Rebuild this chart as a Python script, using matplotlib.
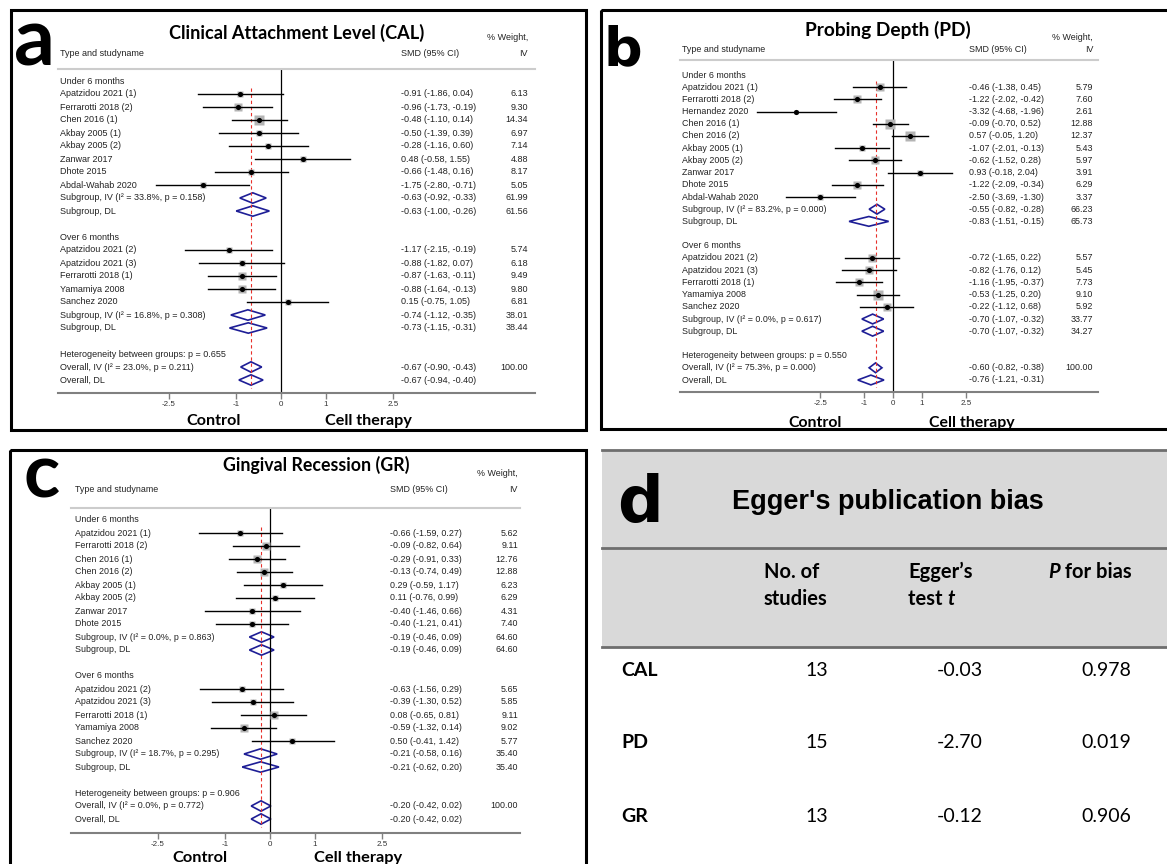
import numpy as np
import matplotlib
matplotlib.use("Agg")
import matplotlib.pyplot as plt
from matplotlib.patches import Polygon, Rectangle

W, H = 1167, 864

# ---- data -----------------------------------------------------------------
TICKS = [-2.5, -1, 0, 1, 2.5]
TICK_LABELS = ["-2.5", "-1", "0", "1", "2.5"]
UNDER_HDR = "Under 6 months"
OVER_HDR = "Over 6 months"

# (a) CAL
CAL_U_NAMES = ["Apatzidou 2021 (1)", "Ferrarotti 2018 (2)", "Chen 2016 (1)", "Akbay 2005 (1)",
               "Akbay 2005 (2)", "Zanwar 2017", "Dhote 2015", "Abdal-Wahab 2020"]
CAL_U_SMD = [-0.91, -0.96, -0.48, -0.50, -0.28, 0.48, -0.66, -1.75]
CAL_U_LO = [-1.86, -1.73, -1.10, -1.39, -1.16, -0.58, -1.48, -2.80]
CAL_U_HI = [0.04, -0.19, 0.14, 0.39, 0.60, 1.55, 0.16, -0.71]
CAL_U_WT = [6.13, 9.30, 14.34, 6.97, 7.14, 4.88, 8.17, 5.05]
CAL_U_POOL = [("Subgroup, IV (I² = 33.8%, p = 0.158)", -0.63, -0.92, -0.33, 61.99),
              ("Subgroup, DL", -0.63, -1.00, -0.26, 61.56)]
CAL_O_NAMES = ["Apatzidou 2021 (2)", "Apatzidou 2021 (3)", "Ferrarotti 2018 (1)",
               "Yamamiya 2008", "Sanchez 2020"]
CAL_O_SMD = [-1.17, -0.88, -0.87, -0.88, 0.15]
CAL_O_LO = [-2.15, -1.82, -1.63, -1.64, -0.75]
CAL_O_HI = [-0.19, 0.07, -0.11, -0.13, 1.05]
CAL_O_WT = [5.74, 6.18, 9.49, 9.80, 6.81]
CAL_O_POOL = [("Subgroup, IV (I² = 16.8%, p = 0.308)", -0.74, -1.12, -0.35, 38.01),
              ("Subgroup, DL", -0.73, -1.15, -0.31, 38.44)]
CAL_HET = "Heterogeneity between groups: p = 0.655"
CAL_OVERALL = [("Overall, IV (I² = 23.0%, p = 0.211)", -0.67, -0.90, -0.43, 100.00),
               ("Overall, DL", -0.67, -0.94, -0.40, None)]

# (b) PD
PD_U_NAMES = ["Apatzidou 2021 (1)", "Ferrarotti 2018 (2)", "Hernandez 2020", "Chen 2016 (1)",
              "Chen 2016 (2)", "Akbay 2005 (1)", "Akbay 2005 (2)", "Zanwar 2017",
              "Dhote 2015", "Abdal-Wahab 2020"]
PD_U_SMD = [-0.46, -1.22, -3.32, -0.09, 0.57, -1.07, -0.62, 0.93, -1.22, -2.50]
PD_U_LO = [-1.38, -2.02, -4.68, -0.70, -0.05, -2.01, -1.52, -0.18, -2.09, -3.69]
PD_U_HI = [0.45, -0.42, -1.96, 0.52, 1.20, -0.13, 0.28, 2.04, -0.34, -1.30]
PD_U_WT = [5.79, 7.60, 2.61, 12.88, 12.37, 5.43, 5.97, 3.91, 6.29, 3.37]
PD_U_POOL = [("Subgroup, IV (I² = 83.2%, p = 0.000)", -0.55, -0.82, -0.28, 66.23),
             ("Subgroup, DL", -0.83, -1.51, -0.15, 65.73)]
PD_O_NAMES = ["Apatzidou 2021 (2)", "Apatzidou 2021 (3)", "Ferrarotti 2018 (1)",
              "Yamamiya 2008", "Sanchez 2020"]
PD_O_SMD = [-0.72, -0.82, -1.16, -0.53, -0.22]
PD_O_LO = [-1.65, -1.76, -1.95, -1.25, -1.12]
PD_O_HI = [0.22, 0.12, -0.37, 0.20, 0.68]
PD_O_WT = [5.57, 5.45, 7.73, 9.10, 5.92]
PD_O_POOL = [("Subgroup, IV (I² = 0.0%, p = 0.617)", -0.70, -1.07, -0.32, 33.77),
             ("Subgroup, DL", -0.70, -1.07, -0.32, 34.27)]
PD_HET = "Heterogeneity between groups: p = 0.550"
PD_OVERALL = [("Overall, IV (I² = 75.3%, p = 0.000)", -0.60, -0.82, -0.38, 100.00),
              ("Overall, DL", -0.76, -1.21, -0.31, None)]

# (c) GR
GR_U_NAMES = ["Apatzidou 2021 (1)", "Ferrarotti 2018 (2)", "Chen 2016 (1)", "Chen 2016 (2)",
              "Akbay 2005 (1)", "Akbay 2005 (2)", "Zanwar 2017", "Dhote 2015"]
GR_U_SMD = [-0.66, -0.09, -0.29, -0.13, 0.29, 0.11, -0.40, -0.40]
GR_U_LO = [-1.59, -0.82, -0.91, -0.74, -0.59, -0.76, -1.46, -1.21]
GR_U_HI = [0.27, 0.64, 0.33, 0.49, 1.17, 0.99, 0.66, 0.41]
GR_U_WT = [5.62, 9.11, 12.76, 12.88, 6.23, 6.29, 4.31, 7.40]
GR_U_POOL = [("Subgroup, IV (I² = 0.0%, p = 0.863)", -0.19, -0.46, 0.09, 64.60),
             ("Subgroup, DL", -0.19, -0.46, 0.09, 64.60)]
GR_O_NAMES = ["Apatzidou 2021 (2)", "Apatzidou 2021 (3)", "Ferrarotti 2018 (1)",
              "Yamamiya 2008", "Sanchez 2020"]
GR_O_SMD = [-0.63, -0.39, 0.08, -0.59, 0.50]
GR_O_LO = [-1.56, -1.30, -0.65, -1.32, -0.41]
GR_O_HI = [0.29, 0.52, 0.81, 0.14, 1.42]
GR_O_WT = [5.65, 5.85, 9.11, 9.02, 5.77]
GR_O_POOL = [("Subgroup, IV (I² = 18.7%, p = 0.295)", -0.21, -0.58, 0.16, 35.40),
             ("Subgroup, DL", -0.21, -0.62, 0.20, 35.40)]
GR_HET = "Heterogeneity between groups: p = 0.906"
GR_OVERALL = [("Overall, IV (I² = 0.0%, p = 0.772)", -0.20, -0.42, 0.02, 100.00),
              ("Overall, DL", -0.20, -0.42, 0.02, None)]

# (d) Egger's test
EGGER_OUTCOMES = ["CAL", "PD", "GR"]
EGGER_N = [13, 15, 13]
EGGER_T = [-0.03, -2.70, -0.12]
EGGER_P = [0.978, 0.019, 0.906]


def build_rows(u_names, u_smd, u_lo, u_hi, u_wt, u_pool,
               o_names, o_smd, o_lo, o_hi, o_wt, o_pool, het, overall):
    rows = [("hdr", UNDER_HDR)]
    for r in zip(u_names, u_smd, u_lo, u_hi, u_wt):
        rows.append(("study",) + r)
    rows += [("pool",) + p for p in u_pool]
    rows.append(("blank",))
    rows.append(("hdr", OVER_HDR))
    for r in zip(o_names, o_smd, o_lo, o_hi, o_wt):
        rows.append(("study",) + r)
    rows += [("pool",) + p for p in o_pool]
    rows.append(("blank",))
    rows.append(("hdr", het))
    rows += [("pool",) + p for p in overall]
    return rows


fig = plt.figure(figsize=(W / 100, H / 100), dpi=100)
bg = fig.add_axes([0, 0, 1, 1])
bg.set_xlim(0, W)
bg.set_ylim(H, 0)
bg.axis("off")

CAL_FONT = "Lato"
ARIAL = "Liberation Sans"


def draw_forest(g, rows):
    ax = fig.add_axes([g["left"] / W, 1 - g["bottom"] / H,
                       (g["right"] - g["left"]) / W, (g["bottom"] - g["top"]) / H])
    ax.patch.set_alpha(0)

    def dx(px):
        return (px - g["zero"]) / g["ppu"]

    def ry(py):
        return (py - g["row0"]) / g["step"]

    ax.set_xlim(dx(g["left"]), dx(g["right"]))
    ax.set_ylim(ry(g["bottom"]), ry(g["top"]))
    for s in ("left", "right"):
        ax.spines[s].set_visible(False)
    ax.spines["top"].set_color("#cccccc")
    ax.spines["top"].set_linewidth(1.5)
    ax.spines["bottom"].set_color("#808080")
    ax.spines["bottom"].set_linewidth(1.5)
    ax.set_yticks([])
    ax.set_xticks(TICKS, TICK_LABELS, fontsize=5.8, family=ARIAL)
    ax.tick_params(axis="x", length=4, width=1, color="#808080", pad=2, labelcolor="#333333")

    ax.axvline(0, color="black", lw=0.9)
    overall_iv = [r for r in rows if r[0] == "pool"][-2][2]
    ax.plot([overall_iv, overall_iv], [0.5, len(rows) - 0.4], color="#e8302a",
            lw=0.8, dashes=(3, 2.5))

    kw = dict(fontsize=g["fs"], family=ARIAL, color="#222222", va="center")
    ax.text(dx(g["name_x"]), ry(g["hdr_y"]), "Type and studyname", ha="left", **kw)
    ax.text(dx(g["smd_x"]), ry(g["hdr_y"]), "SMD (95% CI)", ha="left", **kw)
    ax.text(dx(g["wt_x"]), ry(g["wtlab_y"]), "% Weight,", ha="right", **kw)
    ax.text(dx(g["wt_x"]), ry(g["hdr_y"]), "IV", ha="right", **kw)

    for i, r in enumerate(rows):
        kind = r[0]
        if kind == "blank":
            continue
        if kind == "hdr":
            ax.text(dx(g["name_x"]), i, r[1], ha="left", **kw)
            continue
        name, est, lo, hi, wt = r[1:]
        if kind == "study":
            ax.plot(est, i, marker="s", ms=g["sq"] * np.sqrt(wt) * 0.72,
                    color="#b4b4b4", mec="none")
            ax.plot([lo, hi], [i, i], color="black", lw=1.0)
            ax.plot(est, i, marker="o", ms=3.7, color="black", mec="none")
        else:
            hh = 0.4
            ax.add_patch(Polygon([(lo, i), (est, i - hh), (hi, i), (est, i + hh)],
                                 closed=True, facecolor="white", edgecolor="#1e1e96", lw=1.2))
        ax.text(dx(g["name_x"]), i, name, ha="left", **kw)
        ax.text(dx(g["smd_x"]), i, f"{est:.2f} ({lo:.2f}, {hi:.2f})", ha="left", **kw)
        if wt is not None:
            ax.text(dx(g["wt_x"]), i, f"{wt:.2f}", ha="right", **kw)

    tkw = dict(family=CAL_FONT, fontweight="bold", color="black", va="baseline")
    bg.text(g["title_x"], g["title_y"], g["title"], ha="center", fontsize=g["title_fs"], **tkw)
    bg.text(g["ctrl_x"], g["lab_y"], "Control", ha="center", fontsize=g["lab_fs"], **tkw)
    bg.text(g["cell_x"], g["lab_y"], "Cell therapy", ha="center", fontsize=g["lab_fs"], **tkw)


GEOM_A = dict(left=58, right=535, top=69, bottom=393, zero=281, ppu=44.8, row0=81, step=13.0,
              name_x=60, smd_x=401, wt_x=528, hdr_y=53, wtlab_y=38, fs=6.5, sq=2.4,
              title="Clinical Attachment Level (CAL)", title_x=297, title_y=39, title_fs=13.1,
              ctrl_x=214, cell_x=368, lab_y=425, lab_fs=11.6)
GEOM_B = dict(left=680, right=1098, top=60, bottom=392, zero=893, ppu=29.1, row0=75, step=12.2,
              name_x=682, smd_x=969, wt_x=1093, hdr_y=50, wtlab_y=37, fs=6.4, sq=3.0,
              title="Probing Depth (PD)", title_x=888, title_y=36, title_fs=13.8,
              ctrl_x=815, cell_x=972, lab_y=427, lab_fs=11.4)
GEOM_C = dict(left=71, right=520, top=508, bottom=833, zero=270, ppu=44.8, row0=520, step=13.0,
              name_x=75, smd_x=390, wt_x=518, hdr_y=490, wtlab_y=474, fs=6.4, sq=2.5,
              title="Gingival Recession (GR)", title_x=316, title_y=471, title_fs=12.8,
              ctrl_x=200, cell_x=358, lab_y=862, lab_fs=11.8)

# panel frames
for (x0, y0, x1, y1) in [(11, 10, 586, 430), (601, 10, 1190, 429), (10, 450, 586, 890)]:
    bg.add_patch(Rectangle((x0, y0), x1 - x0, y1 - y0, fill=False, ec="black", lw=2.2,
                           clip_on=False))

draw_forest(GEOM_A, build_rows(CAL_U_NAMES, CAL_U_SMD, CAL_U_LO, CAL_U_HI, CAL_U_WT, CAL_U_POOL,
                               CAL_O_NAMES, CAL_O_SMD, CAL_O_LO, CAL_O_HI, CAL_O_WT, CAL_O_POOL,
                               CAL_HET, CAL_OVERALL))
draw_forest(GEOM_B, build_rows(PD_U_NAMES, PD_U_SMD, PD_U_LO, PD_U_HI, PD_U_WT, PD_U_POOL,
                               PD_O_NAMES, PD_O_SMD, PD_O_LO, PD_O_HI, PD_O_WT, PD_O_POOL,
                               PD_HET, PD_OVERALL))
draw_forest(GEOM_C, build_rows(GR_U_NAMES, GR_U_SMD, GR_U_LO, GR_U_HI, GR_U_WT, GR_U_POOL,
                               GR_O_NAMES, GR_O_SMD, GR_O_LO, GR_O_HI, GR_O_WT, GR_O_POOL,
                               GR_HET, GR_OVERALL))

# panel letters
bg.text(14, 65, "a", family=CAL_FONT, fontweight="bold", fontsize=58, va="baseline")
bg.text(604, 65, "b", family="DejaVu Sans", fontweight="bold", fontsize=39, va="baseline")
bg.text(24, 497, "c", family=CAL_FONT, fontweight="bold", fontsize=54, va="baseline")
bg.text(617, 522, "d", family="DejaVu Sans", fontweight="bold", fontsize=46, va="baseline")

# (d) table
bg.add_patch(Rectangle((602, 450), W - 602 + 5, 197, facecolor="#d9d9d9", ec="none"))
for yy in (450, 548, 647):
    bg.plot([602, W + 5], [yy, yy], color="#6e6e6e", lw=2.0, clip_on=False)
bg.text(732, 502, "Egger's publication bias", family=ARIAL, fontweight="bold",
        fontsize=19.5, va="center", ha="left")
hk = dict(family=CAL_FONT, fontweight="bold", fontsize=14.5, ha="left", va="center")
bg.text(764, 572, "No. of", **hk)
bg.text(764, 599, "studies", **hk)
bg.text(908, 572, "Egger\u2019s", **hk)
t1 = bg.text(908, 599, "test ", **hk)
bg.annotate("t", xy=(1, 0), xycoords=t1, va="bottom", ha="left", style="italic",
            family=CAL_FONT, fontweight="bold", fontsize=14.5)
p1 = bg.text(1048, 572, "P", style="italic", **hk)
bg.annotate(" for bias", xy=(1, 0), xycoords=p1, va="bottom", ha="left",
            family=CAL_FONT, fontweight="bold", fontsize=14.5)

ROW_Y = [670, 743, 817]
for y, lab, n, t, p in zip(ROW_Y, EGGER_OUTCOMES, EGGER_N, EGGER_T, EGGER_P):
    bg.text(621, y, lab, family=CAL_FONT, fontweight="bold", fontsize=14, va="center")
    bg.text(817, y, f"{n}", family=CAL_FONT, fontsize=14, va="center", ha="center")
    bg.text(960, y, f"{t:.2f}", family=CAL_FONT, fontsize=14, va="center", ha="center")
    bg.text(1106, y, f"{p:.3f}", family=CAL_FONT, fontsize=14, va="center", ha="center")

fig.savefig("out.png", dpi=100)
